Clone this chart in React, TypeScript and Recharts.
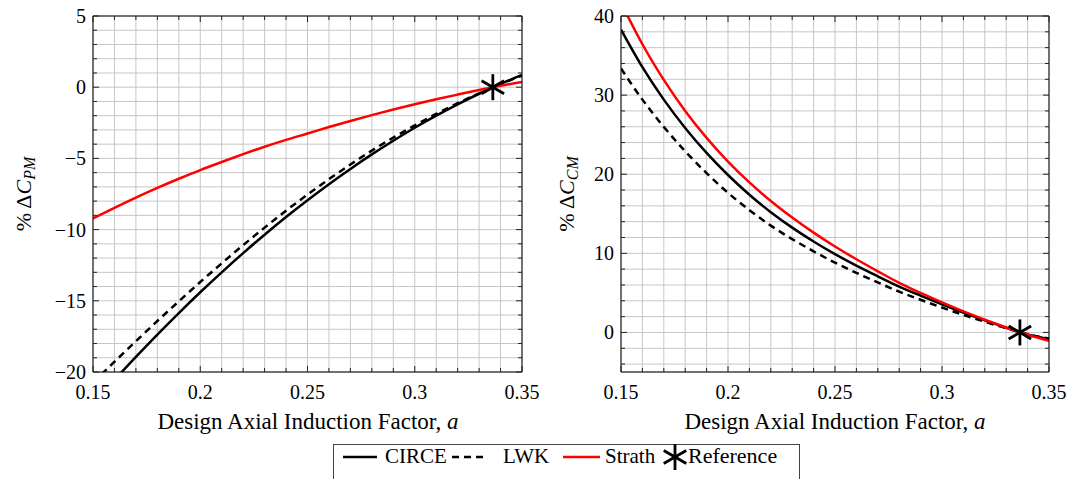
import React from 'react';
import { ComposedChart, Line, Scatter, XAxis, YAxis, CartesianGrid } from 'recharts';

// ---- data ----
const aValues = [0.15, 0.16, 0.17, 0.18, 0.19, 0.2, 0.21, 0.22, 0.23, 0.24, 0.25, 0.26, 0.27, 0.28, 0.29, 0.3, 0.31, 0.32, 0.33, 0.34, 0.35];

const circePM = [-22.24, -20.56, -18.94, -17.37, -15.86, -14.4, -13.0, -11.65, -10.36, -9.12, -7.94, -6.81, -5.74, -4.72, -3.76, -2.85, -2.0, -1.2, -0.46, 0.23, 0.86];
const lwkPM = [-20.74, -19.28, -17.84, -16.42, -15.04, -13.68, -12.37, -11.09, -9.86, -8.67, -7.54, -6.46, -5.43, -4.45, -3.54, -2.68, -1.88, -1.12, -0.43, 0.22, 0.81];
const strathPM = [-9.22, -8.47, -7.75, -7.07, -6.43, -5.82, -5.25, -4.7, -4.18, -3.7, -3.25, -2.8, -2.37, -1.96, -1.57, -1.2, -0.85, -0.52, -0.2, 0.1, 0.37];

const circeCM = [38.27, 33.53, 29.43, 25.85, 22.69, 19.9, 17.41, 15.2, 13.25, 11.5, 9.9, 8.45, 7.1, 5.8, 4.65, 3.55, 2.5, 1.52, 0.6, -0.25, -0.85];
const lwkCM = [33.37, 29.43, 25.98, 22.9, 20.14, 17.65, 15.46, 13.5, 11.8, 10.25, 8.82, 7.53, 6.32, 5.15, 4.13, 3.15, 2.22, 1.35, 0.53, -0.23, -0.77];
const strathCM = [41.67, 36.43, 31.93, 28.0, 24.59, 21.6, 18.96, 16.62, 14.53, 12.62, 10.87, 9.25, 7.73, 6.27, 4.99, 3.79, 2.66, 1.61, 0.63, -0.3, -1.05];

const refA = [0.3364];
const refPM = [0];
const refCM = [0];

// ---- ticks ----
const xTicks = [0.15, 0.16, 0.17, 0.18, 0.19, 0.2, 0.21, 0.22, 0.23, 0.24, 0.25, 0.26, 0.27, 0.28, 0.29, 0.3, 0.31, 0.32, 0.33, 0.34, 0.35];
const xMajor = [0.15, 0.2, 0.25, 0.3, 0.35];
const pmTicks = [-20, -19, -18, -17, -16, -15, -14, -13, -12, -11, -10, -9, -8, -7, -6, -5, -4, -3, -2, -1, 0, 1, 2, 3, 4, 5];
const pmMajor = [-20, -15, -10, -5, 0, 5];
const cmTicks = [-4, -2, 0, 2, 4, 6, 8, 10, 12, 14, 16, 18, 20, 22, 24, 26, 28, 30, 32, 34, 36, 38, 40];
const cmMajor = [0, 10, 20, 30, 40];

const pmData = aValues.map((a, i) => ({ a, circe: circePM[i], lwk: lwkPM[i], strath: strathPM[i] }));
const cmData = aValues.map((a, i) => ({ a, circe: circeCM[i], lwk: lwkCM[i], strath: strathCM[i] }));
const pmRef = refA.map((a, i) => ({ a, ref: refPM[i] }));
const cmRef = refA.map((a, i) => ({ a, ref: refCM[i] }));

const FONT = '"Liberation Serif", "Times New Roman", serif';
const TICK_COLOR = '#222';
const GRID = '#c6c6c6';

const near = (v: number, arr: number[]) => arr.some((m) => Math.abs(m - v) < 1e-6);
const fmt = (v: number) => (v < 0 ? '\u2212' + String(Math.abs(v)) : String(v));

const BottomTick = (props: any, majors: number[]) => {
  const { x, y, payload } = props;
  const major = near(payload.value, majors);
  return (
    <g>
      <line x1={x} x2={x} y1={y} y2={y - (major ? 6 : 4)} stroke={TICK_COLOR} strokeWidth={1} />
      {major && (
        <text x={x} y={y + 27} textAnchor="middle" fontFamily={FONT} fontSize={20} fill="#000">
          {fmt(payload.value)}
        </text>
      )}
    </g>
  );
};

const TopTick = (props: any, majors: number[]) => {
  const { x, y, payload } = props;
  const major = near(payload.value, majors);
  return <line x1={x} x2={x} y1={y} y2={y + (major ? 6 : 4)} stroke={TICK_COLOR} strokeWidth={1} />;
};

const LeftTick = (props: any, majors: number[]) => {
  const { x, y, payload } = props;
  const major = near(payload.value, majors);
  return (
    <g>
      <line x1={x} x2={x + (major ? 6 : 4)} y1={y} y2={y} stroke={TICK_COLOR} strokeWidth={1} />
      {major && (
        <text x={x - 7} y={y + 7} textAnchor="end" fontFamily={FONT} fontSize={20} fill="#000">
          {fmt(payload.value)}
        </text>
      )}
    </g>
  );
};

const RightTick = (props: any, majors: number[]) => {
  const { x, y, payload } = props;
  const major = near(payload.value, majors);
  return <line x1={x} x2={x - (major ? 6 : 4)} y1={y} y2={y} stroke={TICK_COLOR} strokeWidth={1} />;
};

const StarShape = (props: any) => {
  const { cx, cy } = props;
  const r = 13;
  const dx = r * Math.cos(Math.PI / 6);
  const dy = r * Math.sin(Math.PI / 6);
  return (
    <g stroke="#000" strokeWidth={2.8} strokeLinecap="butt">
      <line x1={cx} y1={cy - r} x2={cx} y2={cy + r} />
      <line x1={cx - dx} y1={cy - dy} x2={cx + dx} y2={cy + dy} />
      <line x1={cx - dx} y1={cy + dy} x2={cx + dx} y2={cy - dy} />
    </g>
  );
};

type PanelProps = {
  data: any[];
  refData: any[];
  yTicks: number[];
  yMajor: number[];
  yDomain: [number, number];
  leftWidth: number;
  width: number;
  rightMargin: number;
};

const Panel = ({ data, refData, yTicks, yMajor, yDomain, leftWidth, width, rightMargin }: PanelProps) => (
  <ComposedChart width={width} height={440} data={data} margin={{ top: 15, right: rightMargin, bottom: 0, left: 0 }}>
    <CartesianGrid stroke={GRID} strokeWidth={1} />
    <XAxis
      dataKey="a"
      type="number"
      domain={[0.15, 0.35]}
      ticks={xTicks}
      interval={0}
      allowDataOverflow
      height={68}
      tickSize={0}
      tickMargin={0}
      axisLine={{ stroke: '#000', strokeWidth: 1 }}
      tickLine={false}
      tick={(p: any) => BottomTick(p, xMajor)}
    />
    <XAxis
      xAxisId="top"
      orientation="top"
      dataKey="a"
      type="number"
      domain={[0.15, 0.35]}
      ticks={xTicks}
      interval={0}
      allowDataOverflow
      height={1}
      tickSize={0}
      tickMargin={0}
      axisLine={{ stroke: '#000', strokeWidth: 1 }}
      tickLine={false}
      tick={(p: any) => TopTick(p, xMajor)}
    />
    <YAxis
      type="number"
      domain={yDomain}
      ticks={yTicks}
      interval={0}
      allowDataOverflow
      width={leftWidth}
      tickSize={0}
      tickMargin={0}
      axisLine={{ stroke: '#000', strokeWidth: 1 }}
      tickLine={false}
      tick={(p: any) => LeftTick(p, yMajor)}
    />
    <YAxis
      yAxisId="right"
      orientation="right"
      type="number"
      domain={yDomain}
      ticks={yTicks}
      interval={0}
      allowDataOverflow
      width={1}
      tickSize={0}
      tickMargin={0}
      axisLine={{ stroke: '#000', strokeWidth: 1 }}
      tickLine={false}
      tick={(p: any) => RightTick(p, yMajor)}
    />
    <Line type="monotone" dataKey="lwk" stroke="#000" strokeWidth={2.5} strokeDasharray="7 5" dot={false} activeDot={false} isAnimationActive={false} />
    <Line type="monotone" dataKey="circe" stroke="#000" strokeWidth={2.5} dot={false} activeDot={false} isAnimationActive={false} />
    <Line type="monotone" dataKey="strath" stroke="#ff0000" strokeWidth={2.5} dot={false} activeDot={false} isAnimationActive={false} />
    <Scatter data={refData} dataKey="ref" shape={StarShape} isAnimationActive={false} />
  </ComposedChart>
);

const YLabel = ({ x, y, sub }: { x: number; y: number; sub: string }) => (
  <text transform={`translate(${x},${y}) rotate(-90)`} textAnchor="middle" fontFamily={FONT} fontSize={22} fill="#000">
    {'% \u0394'}
    <tspan fontStyle="italic">C</tspan>
    <tspan fontStyle="italic" fontSize={16} dy={4}>
      {sub}
    </tspan>
  </text>
);

const XLabel = ({ x, y }: { x: number; y: number }) => (
  <text x={x} y={y} textAnchor="middle" fontFamily={FONT} fontSize={23} fill="#000">
    Design Axial Induction Factor, <tspan fontStyle="italic">a</tspan>
  </text>
);

export default function App() {
  return (
    <div style={{ position: 'absolute', left: 0, top: 0, width: 1070, height: 479, background: '#fff', overflow: 'hidden' }}>
      <div style={{ position: 'absolute', left: 0, top: 0 }}>
        <Panel data={pmData} refData={pmRef} yTicks={pmTicks} yMajor={pmMajor} yDomain={[-20, 5]} leftWidth={93} width={540} rightMargin={17} />
      </div>
      <div style={{ position: 'absolute', left: 540, top: 0 }}>
        <Panel data={cmData} refData={cmRef} yTicks={cmTicks} yMajor={cmMajor} yDomain={[-5, 40]} leftWidth={81} width={530} rightMargin={20} />
      </div>
      <svg width={1070} height={479} style={{ position: 'absolute', left: 0, top: 0, pointerEvents: 'none' }}>
        <YLabel x={31} y={194} sub="PM" />
        <YLabel x={574} y={194} sub="CM" />
        <XLabel x={308} y={429} />
        <XLabel x={835} y={429} />
        <g>
          <rect x={333.5} y={444.5} width={466} height={40} fill="#fff" stroke="#444" strokeWidth={1} />
          <line x1={343} x2={377} y1={457} y2={457} stroke="#000" strokeWidth={2.5} />
          <text x={385} y={463} fontFamily={FONT} fontSize={21} fill="#000">CIRCE</text>
          <line x1={452} x2={486} y1={457} y2={457} stroke="#000" strokeWidth={2.5} strokeDasharray="7 5" />
          <text x={503} y={463} fontFamily={FONT} fontSize={21} fill="#000">LWK</text>
          <line x1={563} x2={600} y1={457} y2={457} stroke="#ff0000" strokeWidth={2.5} />
          <text x={605} y={463} fontFamily={FONT} fontSize={21} fill="#000">Strath</text>
          <StarShape cx={675} cy={457} />
          <text x={688} y={463} fontFamily={FONT} fontSize={22} fill="#000">Reference</text>
        </g>
      </svg>
    </div>
  );
}
